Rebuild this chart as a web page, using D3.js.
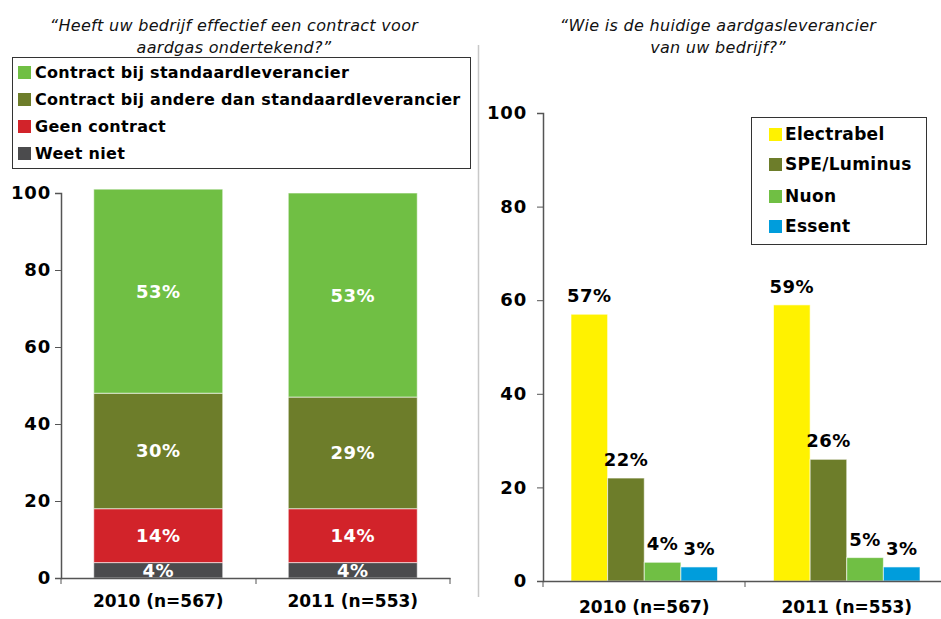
<!DOCTYPE html>
<html>
<head>
<meta charset="utf-8">
<script src="https://d3js.org/d3.v7.min.js"></script>
<style>
  body { margin: 0; background: #fff; }
  text { font-family: "DejaVu Sans", Verdana, sans-serif; }
</style>
</head>
<body>
<div id="chart"></div>
<script>
// data
var years = ["2010 (n=567)", "2011 (n=553)"];

var contractKeys = ["Weet niet", "Geen contract", "Contract bij andere dan standaardleverancier", "Contract bij standaardleverancier"];
var weetNiet = [4, 4];
var geenContract = [14, 14];
var andere = [30, 29];
var standaard = [53, 53];

var suppliers = ["Electrabel", "SPE/Luminus", "Nuon", "Essent"];
var electrabel = [57, 59];
var luminus = [22, 26];
var nuon = [4, 5];
var essent = [3, 3];

var yTicks = [0, 20, 40, 60, 80, 100];

var colors = {
  "Contract bij standaardleverancier": "#70bf44",
  "Contract bij andere dan standaardleverancier": "#6d7d2a",
  "Geen contract": "#d2232a",
  "Weet niet": "#4b4b4d",
  "Electrabel": "#fff200",
  "SPE/Luminus": "#6d7d2a",
  "Nuon": "#70bf44",
  "Essent": "#009ddc"
};

var svg = d3.select("#chart").append("svg")
    .attr("width", 941)
    .attr("height", 619);

// divider
svg.append("line")
    .attr("x1", 478.5).attr("x2", 478.5)
    .attr("y1", 45).attr("y2", 597)
    .attr("stroke", "#c8c8c8").attr("stroke-width", 1.5);

// titles
function title(x, lines) {
  var t = svg.append("text")
      .attr("text-anchor", "middle")
      .style("font-style", "italic")
      .style("font-size", "16px")
      .style("letter-spacing", "0.3px")
      .attr("fill", "#111");
  lines.forEach(function (l, i) {
    t.append("tspan").attr("x", x).attr("y", 31 + i * 22).text(l);
  });
}
title(234, ["\u201CHeeft uw bedrijf effectief een contract voor", "aardgas ondertekend?\u201D"]);
title(718, ["\u201CWie is de huidige aardgasleverancier", "van uw bedrijf?\u201D"]);

// ---------- left chart: stacked ----------
var x1 = d3.scaleBand().domain(years).range([61, 450]).paddingInner(0).paddingOuter(0);
var y1 = d3.scaleLinear().domain([0, 100]).range([578, 193]);

var rows = years.map(function (yr, i) {
  return {
    year: yr,
    "Weet niet": weetNiet[i],
    "Geen contract": geenContract[i],
    "Contract bij andere dan standaardleverancier": andere[i],
    "Contract bij standaardleverancier": standaard[i]
  };
});
var stacked = d3.stack().keys(contractKeys)(rows);

var barW1 = 129;
var gLeft = svg.append("g");
stacked.forEach(function (layer) {
  gLeft.selectAll(null)
    .data(layer)
    .enter()
    .append("rect")
      .attr("x", function (d) { return x1(d.data.year) + x1.bandwidth() / 2 - barW1 / 2; })
      .attr("y", function (d) { return y1(d[1]); })
      .attr("width", barW1)
      .attr("height", function (d) { return y1(d[0]) - y1(d[1]); })
      .attr("fill", colors[layer.key])
      .attr("stroke", "rgba(255,255,255,0.6)")
      .attr("stroke-width", 1);
  gLeft.selectAll(null)
    .data(layer)
    .enter()
    .append("text")
      .attr("x", function (d) { return x1(d.data.year) + x1.bandwidth() / 2; })
      .attr("y", function (d) { return (y1(d[0]) + y1(d[1])) / 2; })
      .attr("dy", "0.36em")
      .attr("text-anchor", "middle")
      .style("font-weight", "bold")
      .style("font-size", "18px")
      .style("letter-spacing", "0.5px")
      .attr("fill", "#fff")
      .text(function (d) { return (d[1] - d[0]) + "%"; });
});

var axisColor = "#555";
var yAxis1 = svg.append("g")
    .attr("transform", "translate(61,0)")
    .call(d3.axisLeft(y1).tickValues(yTicks).tickSize(6).tickPadding(4));
var xAxis1 = svg.append("g")
    .attr("transform", "translate(0,578)")
    .call(d3.axisBottom(x1).tickSize(0).tickPadding(17));
xAxis1.selectAll(".tick line").remove();
[61, 256, 450].forEach(function (px) {
  xAxis1.append("line").attr("x1", px).attr("x2", px).attr("y1", 0).attr("y2", 6)
    .attr("stroke", axisColor);
});

// ---------- right chart: grouped ----------
var x2 = d3.scaleBand().domain(years).range([543, 948]);
var xs = d3.scaleBand().domain(suppliers).range([0, 146.5]);
var y2 = d3.scaleLinear().domain([0, 100]).range([581, 113]);

var values = {
  "Electrabel": electrabel,
  "SPE/Luminus": luminus,
  "Nuon": nuon,
  "Essent": essent
};

var gRight = svg.append("g");
years.forEach(function (yr, i) {
  var g = gRight.append("g")
      .attr("transform", "translate(" + (x2(yr) + x2.bandwidth() / 2 - 73.25) + ",0)");
  var d = suppliers.map(function (s) { return { key: s, v: values[s][i] }; });
  g.selectAll("rect")
    .data(d)
    .enter()
    .append("rect")
      .attr("x", function (e) { return xs(e.key); })
      .attr("y", function (e) { return y2(e.v); })
      .attr("width", xs.bandwidth())
      .attr("height", function (e) { return y2(0) - y2(e.v); })
      .attr("fill", function (e) { return colors[e.key]; })
      .attr("stroke", "rgba(255,255,255,0.6)")
      .attr("stroke-width", 1);
  g.selectAll("text")
    .data(d)
    .enter()
    .append("text")
      .attr("x", function (e) { return xs(e.key) + xs.bandwidth() / 2; })
      .attr("y", function (e) { return y2(e.v) - 12; })
      .attr("text-anchor", "middle")
      .style("font-weight", "bold")
      .style("font-size", "18px")
      .style("letter-spacing", "0.5px")
      .attr("fill", "#000")
      .text(function (e) { return e.v + "%"; });
});

var yAxis2 = svg.append("g")
    .attr("transform", "translate(543,0)")
    .call(d3.axisLeft(y2).tickValues(yTicks).tickSize(6).tickPadding(10));
var xAxis2 = svg.append("g")
    .attr("transform", "translate(0,581)")
    .call(d3.axisBottom(x2).tickSize(0).tickPadding(20));
xAxis2.selectAll(".tick line").remove();
[543, 745].forEach(function (px) {
  xAxis2.append("line").attr("x1", px).attr("x2", px).attr("y1", 0).attr("y2", 6)
    .attr("stroke", axisColor);
});

[yAxis1, xAxis1, yAxis2, xAxis2].forEach(function (a) {
  a.select(".domain").attr("stroke", axisColor).attr("stroke-width", 1.5);
  a.selectAll(".tick line").attr("stroke", axisColor);
  a.selectAll("text")
    .style("font-family", "'DejaVu Sans', Verdana, sans-serif")
    .style("font-weight", "bold")
    .style("font-size", "17px")
    .attr("fill", "#000");
});
[yAxis1, yAxis2].forEach(function (a) {
  a.selectAll("text").style("font-size", "18px").style("letter-spacing", "0.8px");
});

// ---------- legends ----------
function legend(x, y, w, h, keys, rowYs, sw, tx, fs, ls) {
  var g = svg.append("g");
  g.append("rect")
    .attr("x", x).attr("y", y).attr("width", w).attr("height", h)
    .attr("fill", "#fff").attr("stroke", "#333").attr("stroke-width", 1);
  keys.forEach(function (k, i) {
    g.append("rect")
      .attr("x", sw).attr("y", rowYs[i] - 6).attr("width", 13).attr("height", 13)
      .attr("fill", colors[k]);
    g.append("text")
      .attr("x", tx).attr("y", rowYs[i]).attr("dy", "0.36em")
      .style("font-weight", "bold").style("font-size", fs)
      .style("letter-spacing", ls)
      .attr("fill", "#000")
      .text(k);
  });
}
legend(12.5, 57.5, 458, 111,
  ["Contract bij standaardleverancier", "Contract bij andere dan standaardleverancier", "Geen contract", "Weet niet"],
  [72, 99, 126, 153], 18, 35, "16px", "0.3px");
legend(751.5, 117.5, 175, 127, suppliers, [134, 164, 196, 226], 769, 785, "17px", "0.3px");
</script>
</body>
</html>
